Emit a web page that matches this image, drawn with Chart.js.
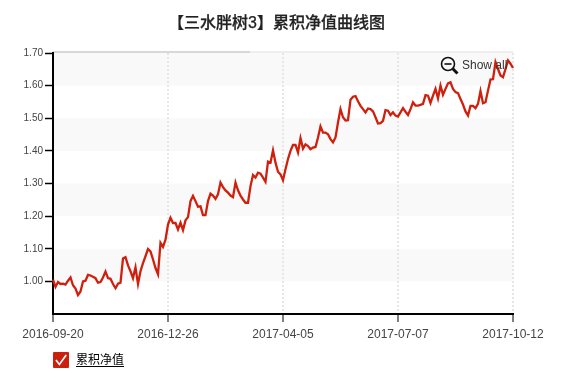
<!DOCTYPE html>
<html><head><meta charset="utf-8">
<style>
html,body{margin:0;padding:0;background:#fff;width:577px;height:378px;overflow:hidden;font-family:"Liberation Sans","Noto Sans CJK SC",sans-serif}
#wrap{position:relative;width:577px;height:378px}
canvas{position:absolute;left:0;top:0}
.t{position:absolute;white-space:nowrap}
#title{left:168px;top:13px;font-size:16px;line-height:20px;font-weight:500;color:#222;-webkit-text-stroke:0.25px #222}
#showall{left:462px;top:58px;font-size:12px;line-height:14px;color:#333}
#legendText{left:76px;top:353px;font-size:12px;line-height:14px;color:#000;text-decoration:underline;text-underline-offset:2px}
svg{position:absolute}
</style>
<script src="https://cdn.jsdelivr.net/npm/chart.js@4"></script>
</head><body>
<div id="wrap">
<canvas id="c" width="577" height="378"></canvas>
<div id="title" class="t"></div>
<svg style="left:438px;top:55px" width="22" height="22" viewBox="0 0 22 22"><circle cx="10" cy="9" r="6.5" fill="none" stroke="#111" stroke-width="1.6"/><line x1="6.5" y1="9" x2="13.5" y2="9" stroke="#111" stroke-width="1.6"/><line x1="14.8" y1="13.8" x2="19.5" y2="18.5" stroke="#111" stroke-width="3"/></svg>
<div id="showall" class="t"></div>
<svg style="left:53px;top:352px" width="16" height="16" viewBox="0 0 16 16"><rect width="16" height="16" rx="1" fill="#cc200e"/><path d="M3 8 L6.4 12.4 L13.2 3" fill="none" stroke="#fff" stroke-width="1.7"/></svg>
<div id="legendText" class="t"></div>
</div>
<script>
const chartTitle = "【三水胖树3】累积净值曲线图";
const seriesName = "累积净值";
const showAllLabel = "Show all";
const tickLabels = ["2016-09-20","2016-12-26","2017-04-05","2017-07-07","2017-10-12"];
const netValues = [
1.005,.983,.998,.992,.993,.990,1.002,1.012,.988,.978,.958,.969,1.000,1.002,1.020,1.018,1.014,1.010,.996,.998,
1.012,1.030,1.010,1.008,.992,.979,.993,.996,1.070,1.074,1.049,1.031,1.010,1.043,.992,1.031,1.056,1.077,1.099,1.092,
1.067,1.041,1.022,1.118,1.106,1.128,1.174,1.195,1.179,1.179,1.159,1.180,1.157,1.187,1.197,1.246,1.262,1.246,1.229,1.230,
1.203,1.203,1.246,1.269,1.263,1.253,1.267,1.303,1.289,1.279,1.272,1.263,1.258,1.303,1.279,1.263,1.251,1.241,1.241,1.292,
1.326,1.318,1.333,1.330,1.318,1.305,1.367,1.364,1.402,1.364,1.336,1.328,1.310,1.344,1.375,1.400,1.418,1.418,1.395,1.439,
1.407,1.420,1.415,1.405,1.410,1.412,1.441,1.475,1.456,1.456,1.451,1.436,1.426,1.441,1.487,1.528,1.503,1.493,1.494,1.557,
1.566,1.568,1.552,1.538,1.528,1.518,1.530,1.528,1.521,1.503,1.484,1.485,1.492,1.525,1.523,1.510,1.518,1.508,1.505,1.518,
1.531,1.520,1.510,1.528,1.549,1.539,1.539,1.541,1.544,1.571,1.569,1.547,1.569,1.590,1.561,1.600,1.572,1.590,1.607,1.610,
1.590,1.580,1.577,1.559,1.542,1.521,1.508,1.538,1.538,1.531,1.544,1.583,1.546,1.549,1.585,1.619,1.620,1.672,1.651,1.631,
1.626,1.651,1.677,1.667,1.654];
const bandRanges = [[1.6,1.7],[1.4,1.5],[1.2,1.3],[1.0,1.1]];
const tickEvery = Math.round((netValues.length-1)/(tickLabels.length-1));
const categories = netValues.map((_,i)=> i%tickEvery===0 ? tickLabels[i/tickEvery] : "");

document.getElementById('title').textContent = chartTitle;
document.getElementById('showall').textContent = showAllLabel;
document.getElementById('legendText').textContent = seriesName;

const bands = {
  id:'bands',
  beforeDraw(chart){
    const {ctx,chartArea:a,scales:{y}} = chart;
    ctx.save();
    ctx.fillStyle='#f9f9f9';
    bandRanges.forEach(([lo,hi])=>{
      const t=y.getPixelForValue(hi), b=y.getPixelForValue(lo);
      ctx.fillRect(a.left,t,a.right-a.left,b-t);
    });
    ctx.fillStyle='#eeeeee';
    ctx.fillRect(a.left,a.top-2,a.right-a.left,2);
    ctx.fillStyle='#d8d8d8';
    ctx.fillRect(a.left,a.top-2,197,2);
    ctx.restore();
  }
};

new Chart(document.getElementById('c'),{
  type:'line',
  data:{labels:categories,datasets:[{label:seriesName,data:netValues,borderColor:'#cf200e',borderWidth:2.3,pointRadius:0,tension:0,fill:false}]},
  options:{
    responsive:false,animation:false,
    layout:{padding:{top:53,right:64,left:0,bottom:0}},
    plugins:{legend:{display:false},title:{display:false},tooltip:{enabled:false}},
    scales:{
      x:{type:'category',offset:false,
        afterFit(s){s.height=64;},
        afterBuildTicks(s){s.ticks=s.ticks.filter(t=>t.value%tickEvery===0);},
        grid:{color:'#e6e6e6',lineWidth:2,offset:false,tickColor:'#000',tickWidth:1,tickLength:8},
        border:{color:'#000',width:2,dash:[2,2]},
        ticks:{autoSkip:false,maxRotation:0,minRotation:0,padding:5,color:'#444',font:{family:'"Liberation Sans"',size:12}}
      },
      y:{min:0.9,max:1.7,
        afterFit(s){s.width=53;},
        afterBuildTicks(s){s.ticks=s.ticks.filter(t=>t.value>0.95);},
        grid:{drawOnChartArea:false,tickColor:'#000',tickWidth:1.5,tickLength:8},
        border:{color:'#000',width:2},
        ticks:{stepSize:0.1,padding:2,color:'#444',font:{family:'"Liberation Sans"',size:10},callback:v=>v.toFixed(2)}
      }
    }
  },
  plugins:[bands]
});
</script>
</body></html>
